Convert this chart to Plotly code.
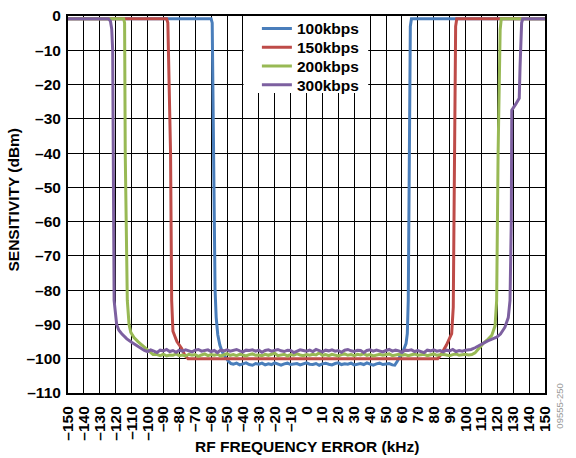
import plotly.graph_objects as go

# ---- data ----
series_names = ['100kbps', '150kbps', '200kbps', '300kbps']
series_colors = ['#4A7EBB', '#BE4B48', '#98B954', '#7D60A0']

# 100kbps
blue_left_x = [-150, -60, -59.3, -58.5, -57.5, -56.8, -55.8, -54.5, -53, -51, -49, -47.5]
blue_left_y = [-0.8, -0.8, -2, -40, -80, -88, -93, -96, -98, -99.5, -100.8, -101.4]
blue_floor_x = list(range(-46, 56, 2))
blue_floor_y = [-101.6, -101.3, -101.8, -101.5, -101.2, -101.7, -101.9, -101.4, -101.6, -101.3,
                -101.8, -101.5, -101.7, -101.2, -101.6, -101.9, -101.5, -101.3, -101.7, -101.6,
                -101.4, -101.8, -101.5, -101.2, -101.6, -101.7, -101.4, -101.9, -101.5, -101.3,
                -101.6, -101.8, -101.4, -101.2, -101.7, -101.5, -101.6, -101.3, -101.8, -101.5,
                -101.4, -101.7, -101.2, -101.6, -101.9, -101.5, -101.3, -101.7, -101.6, -101.4,
                -101.8]
blue_right_x = [55.5, 57, 58.8, 60.9, 62.6, 63.4, 64, 64.7, 65.3, 66, 150]
blue_right_y = [-101.9, -100.8, -99.5, -97.6, -95.6, -92.7, -83, -40, -3, -0.8, -0.8]

# 150kbps
red_left_x = [-150, -88, -87.2, -85.5, -84.8, -84.0, -81.5, -78.5, -76.5, -74.5]
red_left_y = [-0.8, -0.8, -2, -40, -83, -92, -95, -97, -99, -100]
red_right_x = [82.5, 85, 88, 90.5, 91.3, 92.3, 93, 93.8, 94.5, 150]
red_right_y = [-100, -98.5, -96, -93.5, -92.7, -85, -40, -3, -0.8, -0.8]

# 200kbps
green_left_x = [-150, -115, -114.4, -114, -112.7, -111.6, -110.5, -108.5, -106, -103.6, -100, -96.5]
green_left_y = [-0.8, -0.8, -2, -40, -83, -90, -92.3, -93.8, -95, -96, -97.5, -98.8]
green_floor_x = list(range(-94, 106, 2))
green_floor_y = [-98.8, -99.1, -98.7, -99.2, -98.9, -99.0, -98.6, -99.1, -98.9, -99.2,
                 -98.7, -99.0, -98.8, -99.3, -98.9, -98.6, -99.1, -98.8, -99.0, -98.7,
                 -99.2, -98.9, -98.5, -99.0, -98.8, -99.1, -98.7, -98.9, -99.2, -98.8,
                 -98.6, -99.0, -98.9, -99.1, -98.7, -99.0, -98.8, -98.4, -99.1, -98.9,
                 -98.7, -99.2, -98.8, -99.0, -98.6, -98.9, -99.1, -98.8, -99.0, -98.7,
                 -98.9, -98.3, -99.0, -98.8, -99.1, -98.7, -98.9, -99.2, -98.8, -98.6,
                 -99.0, -98.8, -99.1, -98.7, -98.9, -98.5, -99.0, -98.8, -99.2, -98.9,
                 -98.7, -99.0, -98.8, -98.6, -99.1, -98.9, -98.7, -99.0, -98.8, -99.1,
                 -98.9, -98.6, -99.0, -98.8, -98.7, -99.1, -98.9, -98.6, -99.0, -98.8,
                 -98.7, -98.9, -99.1, -98.8, -98.6, -99.0, -98.9, -98.7, -98.9, -98.8]
green_right_x = [106, 108, 111, 113.5, 116.5, 118.6, 119.6, 120.5, 121.8, 122.5, 150]
green_right_y = [-98.3, -97.2, -95.6, -94.6, -93.2, -90.4, -83, -40, -4, -0.8, -0.8]

# 300kbps
purple_left_x = [-150, -124.6, -123.3, -122.5, -121.9, -121.5, -121, -119.4, -118, -116.2,
                 -113, -110, -106, -103.5]
purple_left_y = [-0.8, -0.8, -1.5, -3.8, -10, -40, -83, -90, -91.7, -92.7,
                 -94.2, -95.2, -96.5, -97.3]
purple_floor_x = list(range(-102, 104, 2))
purple_floor_y = [-97.6, -97.9, -97.4, -97.8, -98.2, -97.5, -97.7, -97.3, -97.9, -97.6,
                  -98.1, -97.5, -97.8, -97.4, -97.7, -98.0, -97.5, -97.3, -97.8, -97.6,
                  -97.4, -97.9, -97.6, -98.2, -97.5, -97.7, -97.4, -97.8, -97.6, -97.3,
                  -97.7, -98.0, -97.5, -97.6, -97.4, -97.8, -97.5, -98.1, -97.6, -97.4,
                  -97.8, -97.5, -97.3, -97.7, -97.9, -97.5, -97.6, -98.2, -97.7, -97.4,
                  -97.6, -97.8, -97.5, -97.9, -97.3, -97.6, -98.0, -97.5, -97.7, -97.4,
                  -97.8, -97.6, -98.1, -97.5, -97.3, -97.7, -97.9, -97.5, -97.6, -98.2,
                  -97.6, -97.4, -97.8, -97.5, -97.7, -98.0, -97.6, -97.3, -97.8, -97.5,
                  -97.7, -98.1, -97.5, -97.6, -97.4, -97.9, -97.6, -97.8, -98.2, -97.5,
                  -97.7, -97.4, -97.8, -97.6, -98.0, -97.5, -97.7, -97.3, -97.9, -97.6,
                  -97.8, -97.5, -97.4]
purple_right_x = [103.5, 106, 109, 111, 114, 117, 119.6, 122, 124.8, 126.9, 128, 128.8, 129,
                  129.1, 131.5, 133.8, 134.3, 134.7, 135.3, 136, 150]
purple_right_y = [-97.3, -96.8, -96, -95.5, -94.8, -94.2, -93.7, -92.8, -90.8, -88, -83, -60, -40,
                  -27.5, -25.8, -24, -15, -8, -2, -0.8, -0.8]

x_ticks = list(range(-150, 160, 10))
x_tick_text = ['–150', '–140', '–130', '–120', '–110', '–100', '–90', '–80', '–70', '–60',
               '–50', '–40', '–30', '–20', '–10', '0', '10', '20', '30', '40', '50', '60',
               '70', '80', '90', '100', '110', '120', '130', '140', '150']
y_ticks = list(range(-110, 10, 10))
y_tick_text = ['–110', '–100', '–90', '–80', '–70', '–60', '–50', '–40', '–30', '–20', '–10', '0']

series_x = [
    blue_left_x + blue_floor_x + blue_right_x,
    red_left_x + red_right_x,
    green_left_x + green_floor_x + green_right_x,
    purple_left_x + purple_floor_x + purple_right_x,
]
series_y = [
    blue_left_y + blue_floor_y + blue_right_y,
    red_left_y + red_right_y,
    green_left_y + green_floor_y + green_right_y,
    purple_left_y + purple_floor_y + purple_right_y,
]

FONT = 'Liberation Sans, Arial, sans-serif'
W, H = 576, 458
ML, MR, MT, MB = 68, 31, 12, 65
plot_h = H - MT - MB

fig = go.Figure()
legend_ids = ['legend', 'legend2', 'legend3', 'legend4']
for name, color, xs, ys, lg in zip(series_names, series_colors, series_x, series_y, legend_ids):
    fig.add_trace(go.Scatter(x=xs, y=ys, mode='lines', name=name, legend=lg,
                             line=dict(color=color, width=3)))

axis_style = dict(showgrid=True, gridcolor='#000000', gridwidth=1.4, zeroline=False,
                  showline=True, linecolor='#000000', linewidth=2, mirror=True,
                  ticks='', automargin=False, ticklabeloverflow='allow',
                  tickfont=dict(family=FONT, size=15.5, color='#000000', weight='bold'))

legend_font = dict(family=FONT, size=15.5, weight='bold', color='#000000')
# one legend per series so rows can sit 19px apart, as in the reference
legends = {}
for i, lg in enumerate(legend_ids):
    row_center = 13 + 19 * i   # px below plot top
    legends[lg] = dict(x=0.396, y=1 - row_center / plot_h, xanchor='left', yanchor='middle',
                       bgcolor='rgba(0,0,0,0)', borderwidth=0, font=legend_font)

fig.update_layout(
    width=W, height=H,
    paper_bgcolor='white', plot_bgcolor='white',
    margin=dict(l=ML, r=MR, t=MT, b=MB),
    font=dict(family=FONT, color='#000000'),
    xaxis=dict(range=[-150, 150], tickvals=x_ticks, ticktext=x_tick_text, tickangle=-90,
               ticklabelstandoff=5, **axis_style),
    yaxis=dict(range=[-110, 0], tickvals=y_ticks, ticktext=y_tick_text,
               ticklabelstandoff=2, **axis_style),
    showlegend=True,
    **legends,
)

# white patch behind the legend, over the grid but under the curves
fig.add_shape(type='rect', xref='x', yref='y', x0=-39.6, x1=38.8, y0=-22.5, y1=0,
              fillcolor='white', line=dict(width=0), layer='between')

fig.add_annotation(text='RF FREQUENCY ERROR (kHz)', xref='paper', yref='paper', x=0.5, y=0,
                   yanchor='middle', yshift=-53, showarrow=False,
                   font=dict(family=FONT, size=15.5, weight='bold'))
fig.add_annotation(text='SENSITIVITY (dBm)', xref='paper', yref='paper', x=0, y=0.5,
                   xanchor='center', xshift=-55, yshift=5, textangle=-90, showarrow=False,
                   font=dict(family=FONT, size=15.5, weight='bold'))
fig.add_annotation(text='09555-250', xref='paper', yref='paper', x=1.046, y=-0.1,
                   showarrow=False, textangle=-90,
                   font=dict(family=FONT, size=9.5, color='#999999'))

# drop the default 8px page margin so the figure fills the window exactly
fig.write_html('out.html', config={'displayModeBar': False},
               post_script="document.body.style.margin='0';")
